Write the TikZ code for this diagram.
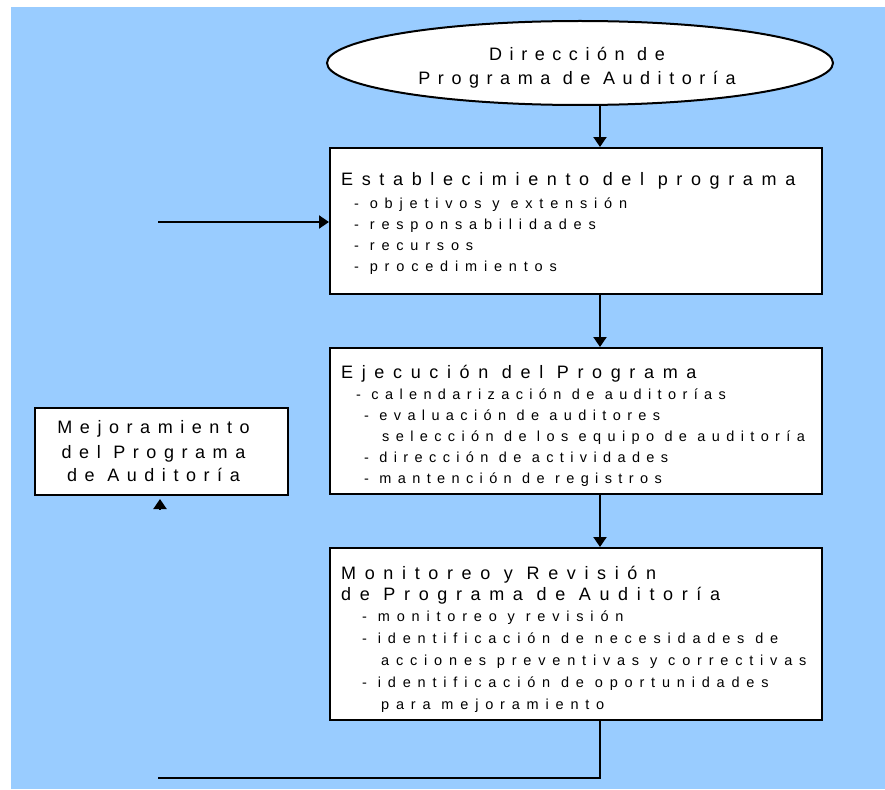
\documentclass[tikz,border=0pt]{standalone}
\usepackage{fontspec}
\setmainfont{Liberation Sans}
\newfontfamily\headfont[LetterSpace=42]{Liberation Sans}
\newfontfamily\titlefont[LetterSpace=48]{Liberation Sans}
\newfontfamily\itemfont[LetterSpace=47]{Liberation Sans}
\newfontfamily\itemfontb[LetterSpace=44]{Liberation Sans}
\usetikzlibrary{shapes.geometric,arrows.meta}
\definecolor{bgblue}{RGB}{153,204,255}
\newcommand{\hd}{\headfont\fontsize{18}{21}\selectfont}
\newcommand{\ttl}{\titlefont\fontsize{18}{21}\selectfont}
\newcommand{\itm}{\itemfont\fontsize{14.5}{21}\selectfont}
\newcommand{\itmb}{\itemfontb\fontsize{14.5}{21}\selectfont}
\tikzset{
  stepbox/.style={draw,line width=2pt,fill=white,minimum width=492pt},
  steptitle/.style={anchor=base west,inner sep=0pt,align=left,font=\ttl},
  stepitems/.style={anchor=base west,inner sep=0pt,align=left,font=\itm},
  arr/.style={line width=2pt,-{Triangle[width=13pt,length=10pt]}},
  link/.style={line width=2pt}
}
\begin{document}
\begin{tikzpicture}[x=1pt,y=-1pt]
  \useasboundingbox (0,0) rectangle (885,789);
  \fill[bgblue] (11,7) rectangle (885,789);
  % direction of the audit programme
  \node[draw,line width=2pt,fill=white,ellipse,minimum width=506pt,
    minimum height=84pt] (dir) at (580,63) {};
  \node[align=center,font=\hd] (dir-t) at ([shift={(-3,4.5)}]dir.center)
    {Dirección de\\[3pt]Programa de Auditoría};
  % the three stages (text placed by the baseline of its last line)
  \node[stepbox,minimum height=146pt] (estab) at (576,221) {};
  \node[steptitle] (estab-t) at ([shift={(12,38.5)}]estab.north west)
    {Establecimiento del programa};
  \node[stepitems] (estab-i) at ([shift={(25,124)}]estab.north west)
    {- objetivos y extensión\\
     - responsabilidades\\
     - recursos\\
     - procedimientos};
  \node[stepbox,minimum height=146pt] (ejec) at (576,421) {};
  \node[steptitle] (ejec-t) at ([shift={(12,31.5)}]ejec.north west)
    {Ejecución del Programa};
  \node[stepitems,font=\itmb] (ejec-i) at ([shift={(27,136)}]ejec.north west)
    {- calendarización de auditorías\\
     \hspace*{8pt}- evaluación de auditores\\
     \hspace*{26pt}selección de los equipo de auditoría\\
     \hspace*{8pt}- dirección de actividades\\
     \hspace*{8pt}- mantención de registros};
  \node[stepbox,minimum height=172pt] (moni) at (576,634) {};
  \node[steptitle] (moni-t) at ([shift={(12,53)}]moni.north west)
    {Monitoreo y Revisión\\de Programa de Auditoría};
  \node[stepitems] (moni-i) at ([shift={(33,162)}]moni.north west)
    {- monitoreo y revisión\\[1pt]
     - identificación de necesidades de\\[1pt]
     \hspace*{19pt}acciones preventivas y correctivas\\[1pt]
     - identificación de oportunidades\\[1pt]
     \hspace*{19pt}para mejoramiento};
  % improvement
  \node[draw,line width=2pt,fill=white,minimum width=253pt,
    minimum height=87pt] (mejora) at (161.5,451.5) {};
  \node[align=center,font=\hd] (mejora-t) at ([shift={(-8,0)}]mejora.center)
    {Mejoramiento\\[4pt]del Programa\\[2pt]de Auditoría};
  % connectors
  \coordinate (spine) at (600,0);
  \coordinate (fbin) at (158,222);
  \coordinate (fbout) at (158,778);
  \coordinate (stubA) at (160,509);
  \coordinate (stubB) at (160,499);
  \draw[arr] (dir.south -| spine) -- (estab.north -| spine);
  \draw[arr] (estab.south -| spine) -- (ejec.north -| spine);
  \draw[arr] (ejec.south -| spine) -- (moni.north -| spine);
  \draw[link] (moni.south -| spine) |- (fbout);
  \draw[arr] (fbin) -- (fbin -| estab.west);
  \draw[arr] (stubA) -- (stubB);
\end{tikzpicture}
\end{document}
